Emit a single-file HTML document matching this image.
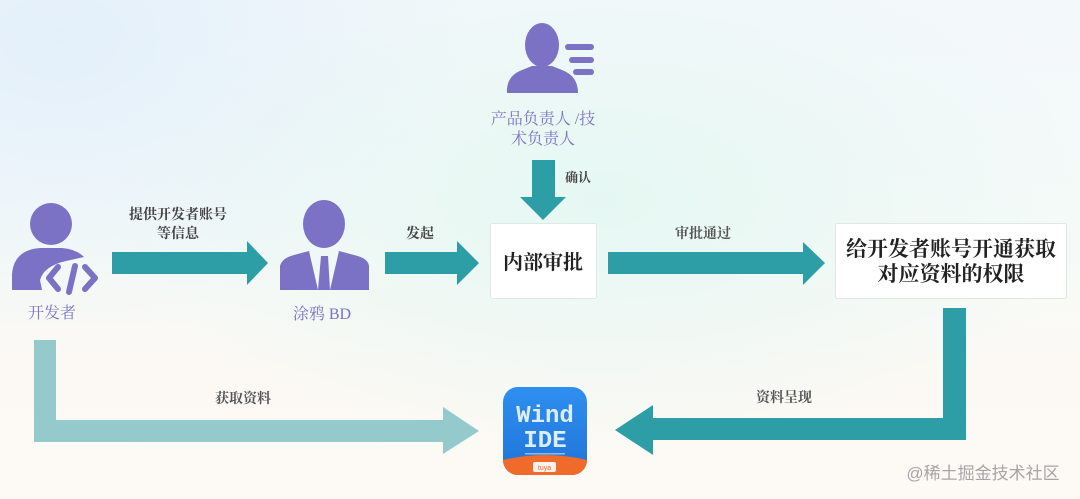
<!DOCTYPE html>
<html><head><meta charset="utf-8"><style>
html,body{margin:0;padding:0;}
body{width:1080px;height:499px;overflow:hidden;position:relative;
background:
radial-gradient(ellipse 420px 300px at 60px 40px, rgba(224,238,250,0.85), rgba(224,238,250,0) 100%),
radial-gradient(ellipse 500px 260px at 600px 200px, rgba(228,247,242,0.9), rgba(228,247,242,0) 100%),
linear-gradient(180deg,#f3f8fb 0%,#f5faf8 45%,#fcf9f4 75%,#fdfaf6 100%);
font-family:"Liberation Serif","Noto Serif CJK SC",serif;}
svg{position:absolute;left:0;top:0;}
</style></head><body>
<svg width="1080" height="499" viewBox="0 0 1080 499" xmlns="http://www.w3.org/2000/svg">
<defs>
<linearGradient id="ide" x1="0" y1="0" x2="0" y2="1">
<stop offset="0" stop-color="#2f8ff0"/><stop offset="1" stop-color="#1f74d8"/>
</linearGradient>
<clipPath id="ideclip"><rect x="503" y="387" width="84" height="88" rx="15"/></clipPath>
</defs>

<!-- developer icon -->
<circle cx="51" cy="224" r="21" fill="#7b72c5"/>
<path d="M12 290 L12 274 Q14 250 40 248 L62 248 Q76 249 84 257 L66 261 Q44 266 40 280 L42 290 Z" fill="#7b72c5"/>
<path d="M58 267 L49 278 L58 289" fill="none" stroke="#7b72c5" stroke-width="6" stroke-linecap="round" stroke-linejoin="round"/>
<path d="M75 266 L69 292" fill="none" stroke="#7b72c5" stroke-width="6" stroke-linecap="round"/>
<path d="M85 267 L95 278 L85 289" fill="none" stroke="#7b72c5" stroke-width="6" stroke-linecap="round" stroke-linejoin="round"/>
<text x="52" y="318" text-anchor="middle" font-size="16" fill="#7b72c5">开发者</text>

<!-- arrow 1 -->
<path d="M112 252 H247 V241 L268 263 L247 285 V274 H112 Z" fill="#2e9ea6"/>
<text x="178" y="219" text-anchor="middle" font-size="14" font-weight="bold" fill="#444">提供开发者账号</text>
<text x="178" y="238" text-anchor="middle" font-size="14" font-weight="bold" fill="#444">等信息</text>

<!-- BD icon -->
<ellipse cx="324" cy="224" rx="21" ry="24" fill="#7b72c5"/>
<path d="M280 290 L280 266 Q282 258 294 255 L309 251 L318 290 Z" fill="#7b72c5"/>
<path d="M339 251 L354 255 Q368 258 369 266 L369 290 L330 290 Z" fill="#7b72c5"/>
<path d="M321 256 L328 256 L330 290 L318 290 Z" fill="#7b72c5"/>
<text x="322" y="319" text-anchor="middle" font-size="16" fill="#7b72c5">涂鸦 BD</text>

<!-- arrow 2 -->
<path d="M385 252 H457 V241 L479 263 L457 285 V274 H385 Z" fill="#2e9ea6"/>
<text x="420" y="238" text-anchor="middle" font-size="14" font-weight="bold" fill="#444">发起</text>

<!-- product icon -->
<ellipse cx="542" cy="45" rx="17" ry="22" fill="#7b72c5"/>
<path d="M507 93 Q506 76 522 70 L532 66 L552 66 L562 70 Q578 76 578 93 Z" fill="#7b72c5"/>
<rect x="565" y="44" width="29" height="6" rx="3" fill="#7b72c5"/>
<rect x="569" y="57" width="25" height="6" rx="3" fill="#7b72c5"/>
<rect x="573" y="69" width="21" height="6" rx="3" fill="#7b72c5"/>
<text x="543" y="124" text-anchor="middle" font-size="16" fill="#7b72c5">产品负责人 /技</text>
<text x="543" y="144" text-anchor="middle" font-size="16" fill="#7b72c5">术负责人</text>

<!-- down arrow -->
<path d="M532 160 H555 V197 H566 L543 220 L520 197 H532 Z" fill="#2e9ea6"/>
<text x="578" y="182" text-anchor="middle" font-size="13" font-weight="bold" fill="#444">确认</text>

<!-- box 1 -->
<rect x="490.5" y="223.5" width="106" height="75" rx="2" fill="#ffffff" stroke="#e3e6e6"/>
<text x="543" y="269" text-anchor="middle" font-size="20" font-weight="bold" fill="#222">内部审批</text>

<!-- arrow 3 -->
<path d="M608 252 H803 V242 L825 263 L803 285 V274 H608 Z" fill="#2e9ea6"/>
<text x="703" y="238" text-anchor="middle" font-size="14" font-weight="bold" fill="#555">审批通过</text>

<!-- box 2 -->
<rect x="835.5" y="223.5" width="231" height="75" rx="2" fill="#ffffff" stroke="#e3e6e6"/>
<text x="951" y="256" text-anchor="middle" font-size="21" font-weight="bold" fill="#222">给开发者账号开通获取</text>
<text x="951" y="281" text-anchor="middle" font-size="21" font-weight="bold" fill="#222">对应资料的权限</text>

<!-- left bottom arrow -->
<path d="M34 340 H56 V420 H443 V407 L479 431 L443 454 V442 H34 Z" fill="#95cacd"/>
<text x="243" y="403" text-anchor="middle" font-size="14" font-weight="bold" fill="#555">获取资料</text>

<!-- right bottom arrow -->
<path d="M943 308 H966 V440 H653 V455 L615 430 L653 405 V418 H943 Z" fill="#2e9ea6"/>
<text x="784" y="402" text-anchor="middle" font-size="14" font-weight="bold" fill="#555">资料呈现</text>

<!-- Wind IDE icon -->
<g clip-path="url(#ideclip)">
<rect x="503" y="387" width="84" height="88" fill="url(#ide)"/>
<path d="M503 460 Q545 450 587 460 L587 475 L503 475 Z" fill="#f06a2a"/>
<rect x="533" y="462" width="23" height="10" rx="2" fill="#ffffff" opacity="0.9"/>
<text x="544.5" y="470" text-anchor="middle" font-family="Liberation Sans,sans-serif" font-size="7" fill="#f06a2a">tuya</text>
</g>
<text x="545" y="422" text-anchor="middle" font-family="Liberation Mono,monospace" font-size="24" font-weight="bold" fill="#dceeff">Wind</text>
<text x="545" y="447" text-anchor="middle" font-family="Liberation Mono,monospace" font-size="24" font-weight="bold" fill="#dceeff">IDE</text>
<rect x="525" y="453" width="40" height="1.5" fill="#bcd8f7" opacity="0.7"/>

<!-- watermark -->
<text x="983" y="479" text-anchor="middle" font-family="Liberation Sans,Noto Sans CJK SC,sans-serif" font-size="17" fill="#a6a6a6">@稀土掘金技术社区</text>
</svg>
</body></html>
